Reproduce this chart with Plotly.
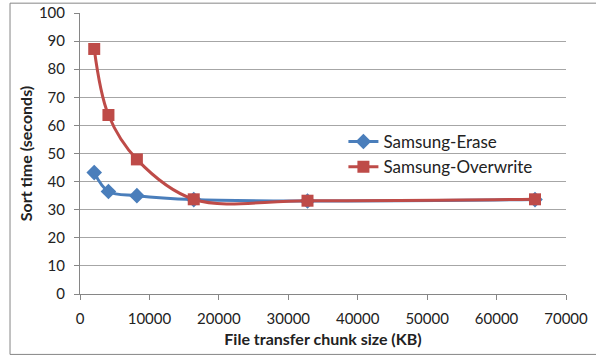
import plotly.graph_objects as go

chunk_kb = [2048, 4096, 8192, 16384, 32768, 65536]
erase = [43.2, 36.5, 35.0, 33.6, 33.1, 33.6]
overwrite = [87.2, 63.7, 47.9, 33.7, 33.2, 33.7]

fig = go.Figure()
fig.add_trace(go.Scatter(x=chunk_kb, y=erase, name="Samsung-Erase", mode="lines+markers",
                         line=dict(color="#4A7EBB", width=3, shape="spline", smoothing=1.0),
                         marker=dict(symbol="diamond", size=12, color="#4A7EBB")))
fig.add_trace(go.Scatter(x=chunk_kb, y=overwrite, name="Samsung-Overwrite", mode="lines+markers",
                         line=dict(color="#BE4B48", width=3, shape="spline", smoothing=1.0),
                         marker=dict(symbol="square", size=12, color="#BE4B48")))

font = "Lato, 'Open Sans', sans-serif"
fig.update_layout(
    width=596, height=356,
    margin=dict(l=80, r=30, t=13, b=62, autoexpand=False),
    paper_bgcolor="white", plot_bgcolor="white",
    font=dict(family=font, size=15, color="#222"),
    legend=dict(x=0.542, y=0.605, xanchor="left", yanchor="top", bgcolor="rgba(0,0,0,0)",
                font=dict(size=17, color="#222"), tracegroupgap=0),
    xaxis=dict(range=[0, 70000], dtick=10000, showgrid=False, showline=True, linecolor="#868686",
               ticks="outside", tickcolor="#868686", ticklen=5, zeroline=False,
               tickformat="d", ticklabelstandoff=6, automargin=False,
               title=dict(text="<b>File transfer chunk size (KB)</b>", font=dict(size=16), standoff=7)),
    yaxis=dict(range=[0, 100], dtick=10, showgrid=True, gridcolor="#A6A6A6", gridwidth=1,
               showline=True, linecolor="#868686", ticks="outside", tickcolor="#868686", ticklen=5,
               zeroline=False, ticklabelstandoff=6, automargin=False,
               title=dict(text="<b>Sort time (seconds)</b>", font=dict(size=16), standoff=2)),
    shapes=[dict(type="rect", xref="paper", yref="paper", x0=-0.144, x1=1.2, y0=-0.215, y1=1.035,
                 line=dict(color="#868686", width=1), fillcolor="rgba(0,0,0,0)", layer="below")],
)
fig.write_html("out.html")
